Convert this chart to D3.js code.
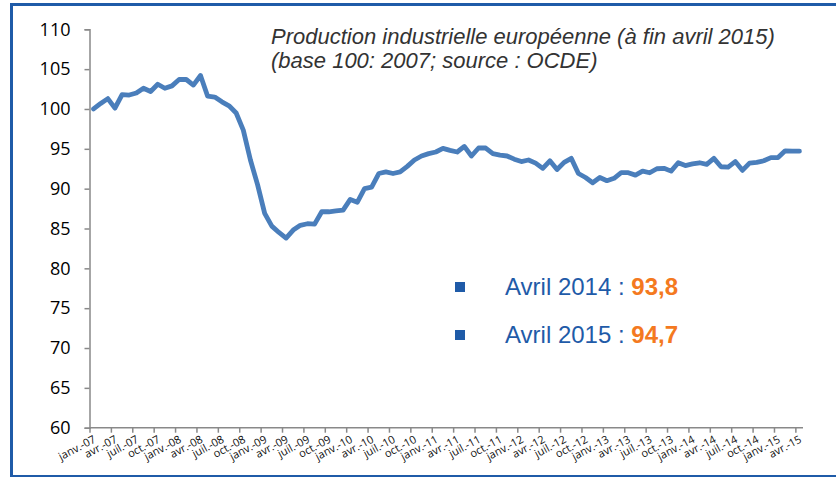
<!DOCTYPE html>
<html>
<head>
<meta charset="utf-8">
<script src="https://cdn.jsdelivr.net/npm/d3@7"></script>
<style>
  body { margin: 0; background: #fff; }
  svg { display: block; }
</style>
</head>
<body>
<div id="chart"></div>
<script>
var width = 836,
    height = 477;

// monthly index, janv. 2007 -> avr. 2015 (base 100: 2007)
var values = [
  100.0, 100.7, 101.3, 100.1, 101.8, 101.75, 102.0, 102.6, 102.2, 103.1, 102.6, 102.9,
  103.7, 103.7, 103.0, 104.2, 101.6, 101.5, 100.9, 100.4, 99.5, 97.35, 93.6, 90.5,
  86.9, 85.3, 84.5, 83.8, 84.8, 85.4, 85.6, 85.55, 87.1, 87.1, 87.2, 87.3,
  88.65, 88.3, 90.0, 90.2, 91.9, 92.1, 91.9, 92.1, 92.8, 93.6, 94.1, 94.4,
  94.6, 95.05, 94.8, 94.6, 95.3, 94.1, 95.1, 95.1, 94.4, 94.2, 94.1, 93.7,
  93.4, 93.6, 93.2, 92.55, 93.5, 92.4, 93.3, 93.8, 91.9, 91.4, 90.75, 91.4,
  91.0, 91.3, 92.0, 92.0, 91.7, 92.2, 92.0, 92.5, 92.55, 92.2, 93.25, 92.9,
  93.1, 93.25, 93.05, 93.8, 92.75, 92.7, 93.4, 92.3, 93.2, 93.3, 93.5, 93.9,
  93.9, 94.75, 94.7, 94.7
];

var monthNames = ["janv.", "févr.", "mars", "avr.", "mai", "juin",
                  "juil.", "août", "sept.", "oct.", "nov.", "déc."];

var yTicks = [60, 65, 70, 75, 80, 85, 90, 95, 100, 105, 110];

var title = ["Production industrielle européenne (à fin avril 2015)",
             "(base 100: 2007; source : OCDE)"];

var legendLabels = ["Avril 2014 : ", "Avril 2015 : "];
var legendValues = ["93,8", "94,7"];

var months = values.map(function(d, i) {
    var yy = 7 + Math.floor(i / 12);
    return monthNames[i % 12] + "-" + (yy < 10 ? "0" + yy : "" + yy);
});

var svg = d3.select("#chart")
    .append("svg")
    .attr("width", width)
    .attr("height", height);

svg.append("rect")
    .attr("x", 11.5)
    .attr("y", 4.5)
    .attr("width", width)
    .attr("height", 472)
    .attr("fill", "#fff")
    .attr("stroke", "#1F5BA8")
    .attr("stroke-width", 3);

var x = d3.scaleBand()
    .domain(months)
    .range([90, 803])
    .padding(0);

var y = d3.scaleLinear()
    .domain([60, 110])
    .range([427.7, 29.3]);

var axisColor = "#898989";

// y axis
var yAxis = svg.append("g")
    .attr("transform", "translate(89.5,0)")
    .call(d3.axisLeft(y).tickValues(yTicks).tickSize(5).tickPadding(14));

yAxis.select(".domain").attr("stroke", axisColor).attr("stroke-width", 1.5);
yAxis.selectAll(".tick line").attr("stroke", axisColor).attr("stroke-width", 1.5);
yAxis.selectAll(".tick text")
    .attr("fill", "#000")
    .style("font-family", "'Open Sans', sans-serif")
    .style("font-size", "18px");

// x axis
var every3 = months.filter(function(d, i) { return i % 3 === 0; });

svg.append("line")
    .attr("x1", 89.5).attr("x2", x.range()[1])
    .attr("y1", y(60)).attr("y2", y(60))
    .attr("stroke", axisColor)
    .attr("stroke-width", 1.5);

svg.selectAll(".xtick")
    .data(every3)
    .enter().append("line")
    .attr("class", "xtick")
    .attr("x1", function(d) { return x(d); })
    .attr("x2", function(d) { return x(d); })
    .attr("y1", y(60))
    .attr("y2", y(60) + 5)
    .attr("stroke", axisColor)
    .attr("stroke-width", 1.5);

svg.selectAll(".xlabel")
    .data(every3)
    .enter().append("text")
    .attr("class", "xlabel")
    .attr("transform", function(d) {
        return "translate(" + (x(d) + x.bandwidth() / 2 + 3) + "," + (y(60) + 14) + ") rotate(-28)";
    })
    .attr("text-anchor", "end")
    .attr("fill", "#111")
    .style("font-family", "'Open Sans', sans-serif")
    .style("font-size", "11px")
    .text(function(d) { return d; });

// series
var line = d3.line()
    .x(function(d, i) { return x(months[i]) + x.bandwidth() / 2; })
    .y(function(d) { return y(d); });

svg.append("path")
    .datum(values)
    .attr("d", line)
    .attr("fill", "none")
    .attr("stroke", "#4A7EBB")
    .attr("stroke-width", 4.8)
    .attr("stroke-linejoin", "round")
    .attr("stroke-linecap", "round");

// title
svg.selectAll(".title")
    .data(title)
    .enter().append("text")
    .attr("class", "title")
    .attr("x", 271)
    .attr("y", function(d, i) { return 44 + i * 24; })
    .attr("fill", "#333")
    .style("font-family", "'Liberation Sans', Arial, sans-serif")
    .style("font-style", "italic")
    .style("font-size", "22px")
    .text(function(d) { return d; });

// legend
var legend = svg.selectAll(".legend")
    .data(legendLabels)
    .enter().append("g")
    .attr("class", "legend")
    .attr("transform", function(d, i) { return "translate(0," + (i * 48) + ")"; });

legend.append("rect")
    .attr("x", 455)
    .attr("y", 282)
    .attr("width", 10)
    .attr("height", 10)
    .attr("fill", "#1F5BA8");

var lt = legend.append("text")
    .attr("x", 505)
    .attr("y", 295)
    .style("font-family", "'Liberation Sans', Arial, sans-serif")
    .style("font-size", "24px");

lt.append("tspan")
    .attr("fill", "#1F5BA8")
    .text(function(d) { return d; });

lt.append("tspan")
    .attr("fill", "#F47920")
    .style("font-weight", "bold")
    .text(function(d, i) { return legendValues[i]; });
</script>
</body>
</html>
